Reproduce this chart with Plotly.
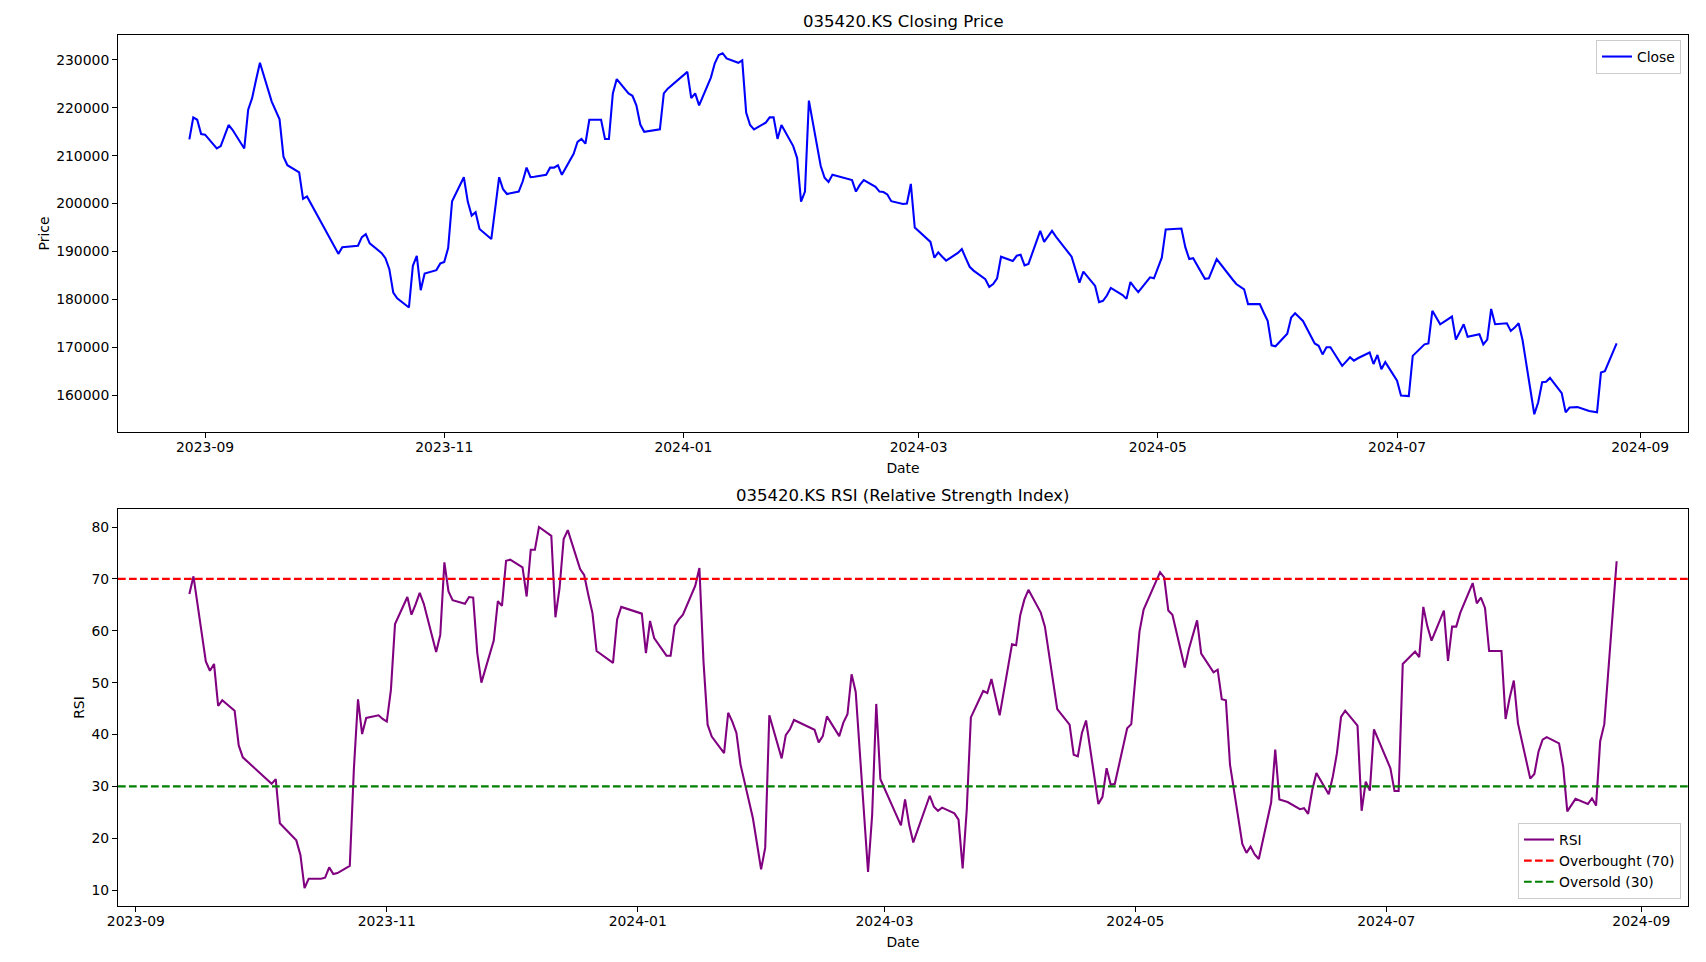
import plotly.graph_objects as go

TICKER = "035420.KS"

# ---------------- Closing price ----------------
price_dates = [
    "2023-08-28", "2023-08-29", "2023-08-30", "2023-08-31", "2023-09-01",
    "2023-09-04", "2023-09-05", "2023-09-06", "2023-09-07", "2023-09-08",
    "2023-09-11", "2023-09-12", "2023-09-13", "2023-09-14", "2023-09-15",
    "2023-09-18", "2023-09-19", "2023-09-20", "2023-09-21", "2023-09-22",
    "2023-09-25", "2023-09-26", "2023-09-27", "2023-10-04", "2023-10-05",
    "2023-10-06", "2023-10-10", "2023-10-11", "2023-10-12", "2023-10-13",
    "2023-10-16", "2023-10-17", "2023-10-18", "2023-10-19", "2023-10-20",
    "2023-10-23", "2023-10-24", "2023-10-25", "2023-10-26", "2023-10-27",
    "2023-10-30", "2023-10-31", "2023-11-01", "2023-11-02", "2023-11-03",
    "2023-11-06", "2023-11-07", "2023-11-08", "2023-11-09", "2023-11-10",
    "2023-11-13", "2023-11-14", "2023-11-15", "2023-11-16", "2023-11-17",
    "2023-11-20", "2023-11-21", "2023-11-22", "2023-11-23", "2023-11-24",
    "2023-11-27", "2023-11-28", "2023-11-29", "2023-11-30", "2023-12-01",
    "2023-12-04", "2023-12-05", "2023-12-06", "2023-12-07", "2023-12-08",
    "2023-12-11", "2023-12-12", "2023-12-13", "2023-12-14", "2023-12-15",
    "2023-12-18", "2023-12-19", "2023-12-20", "2023-12-21", "2023-12-22",
    "2023-12-26", "2023-12-27", "2023-12-28", "2024-01-02", "2024-01-03",
    "2024-01-04", "2024-01-05", "2024-01-08", "2024-01-09", "2024-01-10",
    "2024-01-11", "2024-01-12", "2024-01-15", "2024-01-16", "2024-01-17",
    "2024-01-18", "2024-01-19", "2024-01-22", "2024-01-23", "2024-01-24",
    "2024-01-25", "2024-01-26", "2024-01-29", "2024-01-30", "2024-01-31",
    "2024-02-01", "2024-02-02", "2024-02-05", "2024-02-06", "2024-02-07",
    "2024-02-08", "2024-02-13", "2024-02-14", "2024-02-15", "2024-02-16",
    "2024-02-19", "2024-02-20", "2024-02-21", "2024-02-22", "2024-02-23",
    "2024-02-26", "2024-02-27", "2024-02-28", "2024-02-29", "2024-03-04",
    "2024-03-05", "2024-03-06", "2024-03-07", "2024-03-08", "2024-03-11",
    "2024-03-12", "2024-03-13", "2024-03-14", "2024-03-15", "2024-03-18",
    "2024-03-19", "2024-03-20", "2024-03-21", "2024-03-22", "2024-03-25",
    "2024-03-26", "2024-03-27", "2024-03-28", "2024-03-29", "2024-04-01",
    "2024-04-02", "2024-04-03", "2024-04-04", "2024-04-05", "2024-04-08",
    "2024-04-09", "2024-04-11", "2024-04-12", "2024-04-15", "2024-04-16",
    "2024-04-17", "2024-04-18", "2024-04-19", "2024-04-22", "2024-04-23",
    "2024-04-24", "2024-04-25", "2024-04-26", "2024-04-29", "2024-04-30",
    "2024-05-02", "2024-05-03", "2024-05-07", "2024-05-08", "2024-05-09",
    "2024-05-10", "2024-05-13", "2024-05-14", "2024-05-16", "2024-05-17",
    "2024-05-20", "2024-05-21", "2024-05-22", "2024-05-23", "2024-05-24",
    "2024-05-27", "2024-05-28", "2024-05-29", "2024-05-30", "2024-05-31",
    "2024-06-03", "2024-06-04", "2024-06-05", "2024-06-07", "2024-06-10",
    "2024-06-11", "2024-06-12", "2024-06-13", "2024-06-14", "2024-06-17",
    "2024-06-18", "2024-06-19", "2024-06-20", "2024-06-21", "2024-06-24",
    "2024-06-25", "2024-06-26", "2024-06-27", "2024-06-28", "2024-07-01",
    "2024-07-02", "2024-07-03", "2024-07-04", "2024-07-05", "2024-07-08",
    "2024-07-09", "2024-07-10", "2024-07-11", "2024-07-12", "2024-07-15",
    "2024-07-16", "2024-07-17", "2024-07-18", "2024-07-19", "2024-07-22",
    "2024-07-23", "2024-07-24", "2024-07-25", "2024-07-26", "2024-07-29",
    "2024-07-30", "2024-07-31", "2024-08-01", "2024-08-02", "2024-08-05",
    "2024-08-06", "2024-08-07", "2024-08-08", "2024-08-09", "2024-08-12",
    "2024-08-13", "2024-08-14", "2024-08-16", "2024-08-19", "2024-08-20",
    "2024-08-21", "2024-08-22", "2024-08-23", "2024-08-26",
]
close_prices = [
    213400, 218000, 217500, 214500, 214400,
    211500, 212000, 214100, 216400, 215400,
    211500, 219600, 222000, 225800, 229400,
    221300, 219500, 217600, 209800, 208000,
    206500, 201000, 201500, 191000, 189500,
    190900, 191200, 193000, 193600, 191700,
    189700, 188600, 186300, 181400, 180200,
    178300, 187000, 189100, 181900, 185400,
    186100, 187500, 187800, 190700, 200500,
    205500, 200400, 197500, 198200, 194700,
    192600, 199000, 205500, 203000, 202000,
    202500, 204600, 207500, 205500, 205600,
    206000, 207500, 207500, 208000, 206000,
    210400, 212900, 213500, 212500, 217500,
    217500, 213500, 213500, 223000, 226000,
    223000, 222500, 220500, 216500, 215000,
    215500, 223000, 224000, 227500, 222000,
    223000, 220500, 226300, 229300, 231000,
    231400, 230300, 229400, 229900, 219000,
    216400, 215500, 216900, 218000, 218000,
    213500, 216400, 212000, 209500, 200400,
    202500, 221500, 207900, 205400, 204500,
    206000, 204900, 202500, 203900, 204900,
    203500, 202500, 202400, 201900, 200500,
    199900, 200000, 204100, 195000, 192000,
    188700, 189800, 188900, 188100, 189700,
    190500, 188600, 186800, 186000, 184200,
    182600, 183200, 184400, 188900, 188000,
    189100, 189300, 187100, 187400, 194300,
    192000, 193200, 194300, 193100, 190000,
    188900, 183500, 185800, 182800, 179400,
    179700, 180800, 182400, 180900, 180100,
    183600, 182500, 181500, 184600, 184400,
    188700, 194600, 194800, 190900, 188400,
    188600, 184300, 184400, 188400, 187300,
    184200, 183200, 182600, 182100, 179000,
    179000, 177200, 175500, 170400, 170200,
    172800, 176200, 177100, 175500, 170800,
    170300, 168500, 170000, 170000, 166100,
    167000, 167900, 167200, 167700, 168900,
    166500, 168400, 165400, 166900, 163000,
    159900, 159800, 159800, 168200, 170600,
    170800, 177600, 176200, 174800, 176400,
    171600, 173200, 174800, 172200, 172700,
    170600, 171600, 178000, 174800, 175000,
    173400, 174100, 175000, 171500, 156000,
    158500, 162700, 162800, 163600, 160400,
    156400, 157400, 157500, 156700, 156500,
    156400, 164700, 165000, 170800,
]

# ---------------- RSI ----------------
rsi_dates = price_dates[13:]
rsi_values = [
    67.1, 70.5,
    54.1, 52.3, 53.6, 45.5, 46.6,
    44.6, 37.9, 35.6, 30.5, 31.4,
    22.9, 19.6, 16.8, 10.4, 12.2,
    12.2, 12.4, 14.4, 13.1, 13.3,
    14.7, 33.4, 46.8, 40.1, 43.2,
    43.7, 43.0, 42.5, 48.6, 61.3,
    66.5, 63.1, 65.1, 67.3, 65.2,
    55.9, 59.2, 73.2, 67.6, 65.9,
    65.2, 66.5, 66.4, 55.7, 50.0,
    58.1, 65.7, 64.8, 73.5, 73.7,
    72.2, 66.6, 75.6, 75.6, 80.0,
    78.3, 62.6, 68.2, 77.7, 79.4,
    71.9, 70.7, 66.9, 63.4, 56.1,
    53.8, 62.2, 64.6, 63.3, 55.7,
    61.9, 58.6, 55.2, 55.2, 61.0,
    62.2, 63.1, 68.7, 72.1, 54.0,
    41.9, 39.6, 36.4, 44.2, 42.5,
    40.3, 34.2, 23.9, 19.0, 14.0,
    18.2, 43.7, 35.4, 39.9, 41.0,
    42.8, 40.9, 38.5, 39.7, 43.5,
    39.7, 42.3, 43.9, 51.6, 48.2,
    13.5, 24.5, 45.9, 31.4, 24.0,
    22.5, 27.5, 22.6, 19.2, 26.1,
    28.2, 26.1, 25.3, 25.9, 24.8,
    23.6, 14.2, 25.5, 43.3, 48.4,
    48.0, 50.7, 47.0, 43.7, 57.4,
    57.2, 63.0, 66.0, 67.9, 63.5,
    60.8, 50.2, 44.9, 41.9, 36.1,
    35.8, 40.3, 42.7, 26.6, 28.0,
    33.5, 30.3, 30.5, 41.2, 42.0,
    59.9, 64.1, 71.3, 70.3, 63.9,
    63.1, 52.9, 56.5, 62.0, 55.6,
    52.0, 52.5, 46.8, 46.6, 34.2,
    18.9, 17.2, 18.4, 16.9, 16.0,
    26.9, 37.1, 27.5, 27.0, 25.6,
    25.8, 24.7, 29.3, 32.6, 28.5,
    31.9, 36.4, 43.4, 44.6, 41.7,
    25.3, 30.9, 29.2, 41.0, 35.4,
    33.5, 29.1, 29.1, 53.6, 56.0,
    54.9, 64.6, 60.8, 58.1, 63.9,
    54.2, 60.8, 60.8, 63.5, 69.2,
    65.3, 66.4, 64.4, 56.1, 56.1,
    43.0, 47.1, 50.4, 42.2, 31.5,
    32.4, 36.7, 39.0, 39.5, 38.3,
    33.8, 25.2, 27.6, 26.6, 27.7,
    26.3, 38.7, 42.0, 73.4,
]

OVERBOUGHT = 70
OVERSOLD = 30

price_yticks = [160000, 170000, 180000, 190000, 200000, 210000, 220000, 230000]
rsi_yticks = [10, 20, 30, 40, 50, 60, 70, 80]

# ---------------- layout geometry ----------------
# The page body has an 8px margin, so the figure is sized to fit the window.
W, H = 1690, 946
ML, MR, MT, MB = 110, 10, 27, 48
PLOT_H = H - MT - MB
BODY = 8


def py(page_pix):
    """pixel measured from the top of the page -> paper y"""
    return (H - MB - (page_pix - BODY)) / PLOT_H


def px(page_pix):
    """pixel measured from the left of the page -> paper x"""
    return (page_pix - BODY - ML) / (W - ML - MR)


FONT = "DejaVu Sans"
TICK_SIZE = 13.9
LW = 2.08

axis_common = dict(
    showline=True, linecolor="black", linewidth=1, mirror=True,
    ticks="outside", ticklen=5, tickwidth=1, tickcolor="black",
    showgrid=False, zeroline=False,
    tickfont=dict(family=FONT, size=TICK_SIZE, color="black"),
)

fig = go.Figure()
fig.add_trace(go.Scatter(
    x=price_dates, y=close_prices, mode="lines", name="Close",
    line=dict(color="blue", width=LW), xaxis="x", yaxis="y", legend="legend",
))
fig.add_trace(go.Scatter(
    x=rsi_dates, y=rsi_values, mode="lines", name="RSI",
    line=dict(color="purple", width=LW), xaxis="x2", yaxis="y2", legend="legend2",
))

fig.add_shape(type="line", xref="x2 domain", yref="y2", x0=0, x1=1,
              y0=OVERBOUGHT, y1=OVERBOUGHT,
              line=dict(color="red", width=LW, dash="7.7px,3.3px"),
              showlegend=True, name=f"Overbought ({OVERBOUGHT})", legend="legend2")
fig.add_shape(type="line", xref="x2 domain", yref="y2", x0=0, x1=1,
              y0=OVERSOLD, y1=OVERSOLD,
              line=dict(color="green", width=LW, dash="7.7px,3.3px"),
              showlegend=True, name=f"Oversold ({OVERSOLD})", legend="legend2")

legend_common = dict(
    bgcolor="rgba(255,255,255,0.8)", bordercolor="#cccccc", borderwidth=1,
    font=dict(family=FONT, size=TICK_SIZE, color="black"),
    xanchor="right", x=px(1681),
)

fig.update_layout(
    width=W, height=H,
    margin=dict(l=ML, r=MR, t=MT, b=MB, autoexpand=False),
    paper_bgcolor="white", plot_bgcolor="white",
    font=dict(family=FONT, size=TICK_SIZE, color="black"),
    showlegend=True,
    xaxis=dict(
        axis_common, domain=[0, 1], anchor="y", type="date",
        range=["2023-08-09 19:12", "2024-09-13 04:48"],
        tick0="2023-09-01", dtick="M2", tickformat="%Y-%m",
        ticklabelstandoff=-3,
        title=dict(text="Date", font=dict(family=FONT, size=TICK_SIZE), standoff=9),
    ),
    yaxis=dict(
        axis_common, domain=[py(432), 1], anchor="x",
        range=[152300, 235200], tickvals=price_yticks, tickformat="d",
        title=dict(text="Price", font=dict(family=FONT, size=TICK_SIZE), standoff=3),
    ),
    xaxis2=dict(
        axis_common, domain=[0, 1], anchor="y2", type="date",
        range=["2023-08-27 15:36", "2024-09-12 08:24"],
        tick0="2023-09-01", dtick="M2", tickformat="%Y-%m",
        ticklabelstandoff=-3,
        title=dict(text="Date", font=dict(family=FONT, size=TICK_SIZE), standoff=9),
    ),
    yaxis2=dict(
        axis_common, domain=[0, py(509)], anchor="x2",
        range=[6.95, 83.47], tickvals=rsi_yticks,
        title=dict(text="RSI", font=dict(family=FONT, size=TICK_SIZE), standoff=3),
    ),
    legend=dict(legend_common, y=py(40), yanchor="top"),
    legend2=dict(legend_common, y=py(899), yanchor="bottom"),
    annotations=[
        dict(text=f"{TICKER} Closing Price", xref="paper", yref="paper",
             x=0.5, y=py(21.5), xanchor="center", yanchor="middle",
             showarrow=False, font=dict(family=FONT, size=16.5, color="black")),
        dict(text=f"{TICKER} RSI (Relative Strength Index)", xref="paper", yref="paper",
             x=0.5, y=py(495.5), xanchor="center", yanchor="middle",
             showarrow=False, font=dict(family=FONT, size=16.5, color="black")),
    ],
)

fig.write_html("out.html")
